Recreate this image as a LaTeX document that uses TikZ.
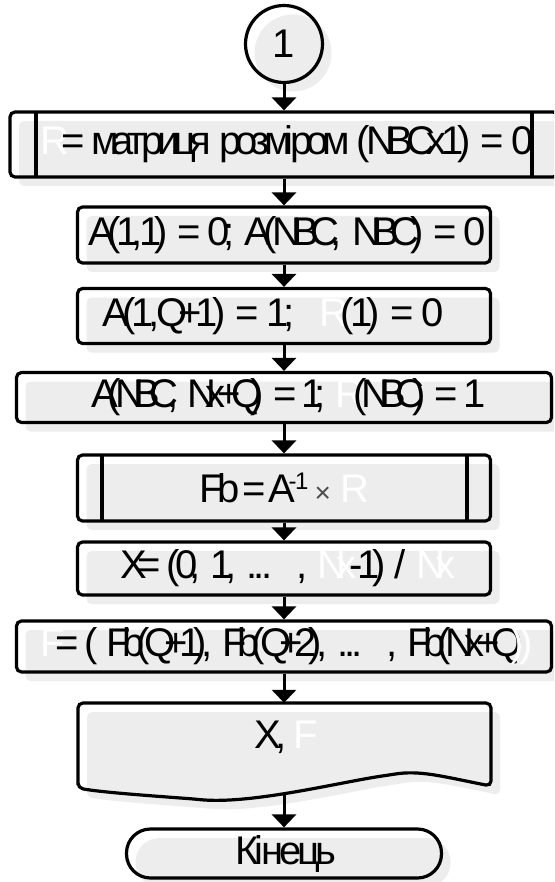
\documentclass[tikz,border=0pt]{standalone}
\usepackage{fontspec}
\setmainfont{Liberation Sans}
\usetikzlibrary{arrows.meta,shadows}
\newcommand\bigfnt{\fontsize{40}{42}\selectfont}
\newcommand\mysp{\hskip 14pt\relax}
\newcommand\smsp{\hskip 9pt\relax}
\newcommand\W{\color{white}}
\newcommand\K{\color{black}}
\ExplSyntaxOn
\tl_new:N \l_my_text_tl
\box_new:N \l_my_glyph_box
\NewDocumentCommand \sq { O{0.78} m }
 {
  \tl_set:Nn \l_my_text_tl { #2 }
  \tl_replace_all:Nnn \l_my_text_tl { ~ } { \mysp }
  \tl_map_inline:Nn \l_my_text_tl
   {
    \token_if_cs:NTF ##1 { ##1 }
     {
      \hbox_set:Nn \l_my_glyph_box { ##1 }
      \hbox_to_wd:nn { #1 \box_wd:N \l_my_glyph_box } { \box_use:N \l_my_glyph_box \hss }
     }
   }
 }
\ExplSyntaxOff
\tikzset{
  every node/.style={font=\bigfnt, inner sep=0pt},
  shad/.style={drop shadow={shadow xshift=9pt, shadow yshift=-9pt, fill=black!7, opacity=1}},
  box/.style={draw, line width=3.2pt, rounded corners=5pt, shad},
  edge line/.style={line width=3.2pt},
  conn/.style={line width=3pt, -{Triangle[width=24pt,length=13pt]}},
}
\begin{document}
\begin{tikzpicture}[x=1pt,y=-1pt]
\useasboundingbox (0,0) rectangle (554,882);
\clip (0,0) rectangle (554,882);
% connector circle
\node[circle, draw, line width=3.2pt, minimum size=77pt, shad] (c1) at (284,44) {1};
% box 1 (predefined process)
\node[box, minimum width=548pt, minimum height=65pt] (b1) at (284,144.5)
  {\sq[0.72]{\W R\K = матриця розміром (NBCx1) = 0}};
\draw[edge line] (36,112) -- (36,177) (532,112) -- (532,177);
% box 2
\node[box, minimum width=413pt, minimum height=56pt] (b2) at (284,235)
  {\sq[0.69]{A(1,1) = 0; A(NBC, NBC) = 0}};
% box 3
\node[box, minimum width=413pt, minimum height=55pt] (b3) at (284,316)
  {\sq[0.73]{A(1,Q+1) = 1;\mysp\mysp\W R\K(1) = 0}\mysp\mysp\mysp};
% box 4
\node[box, minimum width=535pt, minimum height=50pt] (b4) at (284,397.5)
  {\sq[0.61]{A(NBC, Nx+Q) = 1; \W R\K(NBC) = 1}};
% box 5 (predefined process)
\node[box, minimum width=413pt, minimum height=66pt] (b5) at (284,488)
  {\sq[0.74]{Fb\smsp=\smsp A}\raisebox{13pt}{\fontsize{24}{26}\selectfont\sq[0.8]{-1}}\smsp{\color{black!70}\fontsize{28}{30}\selectfont ×}\smsp{\color{white}R}};
\draw[edge line] (102,455) -- (102,521) (467,455) -- (467,521);
% box 6
\node[box, minimum width=413pt, minimum height=53pt] (b6) at (284,568.5)
  {\sq[0.65]{X= (0, 1, ...\mysp\mysp, \W Nx\K-1) / \W Nx}};
% box 7
\node[box, minimum width=535pt, minimum height=51pt] (b7) at (284,646.5)
  {\sq[0.63]{\W F\K = ( Fb(Q+1), Fb(Q+2), ...\mysp\mysp, Fb(Nx+Q\W))}};
% box 8 (document)
\fill[black!7, xshift=9pt, yshift=-9pt, rounded corners=5pt]
  (78,788) -- (78,703) -- (491,703) -- (491,786)
  .. controls (440,776) and (420,770) .. (389,775)
  .. controls (340,782) and (250,805) .. (194,799)
  .. controls (140,795) and (100,792) .. (78,788) -- cycle;
\draw[line width=3.2pt, rounded corners=5pt]
  (78,788) -- (78,703) -- (491,703) -- (491,786)
  .. controls (440,776) and (420,770) .. (389,775)
  .. controls (340,782) and (250,805) .. (194,799)
  .. controls (140,795) and (100,792) .. (78,788) -- cycle;
\node[minimum width=413pt, minimum height=89pt] (b8) at (284,747.5) {};
\node (b8t) at (284,737) {\sq[0.8]{X,\smsp\W F}};
% terminal
\node[box, rounded corners=24pt, minimum width=315pt, minimum height=49pt] (t) at (284,853.5) {\sq[0.8]{Кінець}};
% connectors
\draw[conn] (c1.south) -- (b1.north);
\draw[conn] (b1.south) -- (b2.north);
\draw[conn] (b2.south) -- (b3.north);
\draw[conn] (b3.south) -- (b4.north);
\draw[conn] (b4.south) -- (b5.north);
\draw[conn] (b5.south) -- (b6.north);
\draw[conn] (b6.south) -- (b7.north);
\draw[conn] (b7.south) -- (b8.north);
\draw[conn] (b8.south) -- (t.north);
\end{tikzpicture}
\end{document}
